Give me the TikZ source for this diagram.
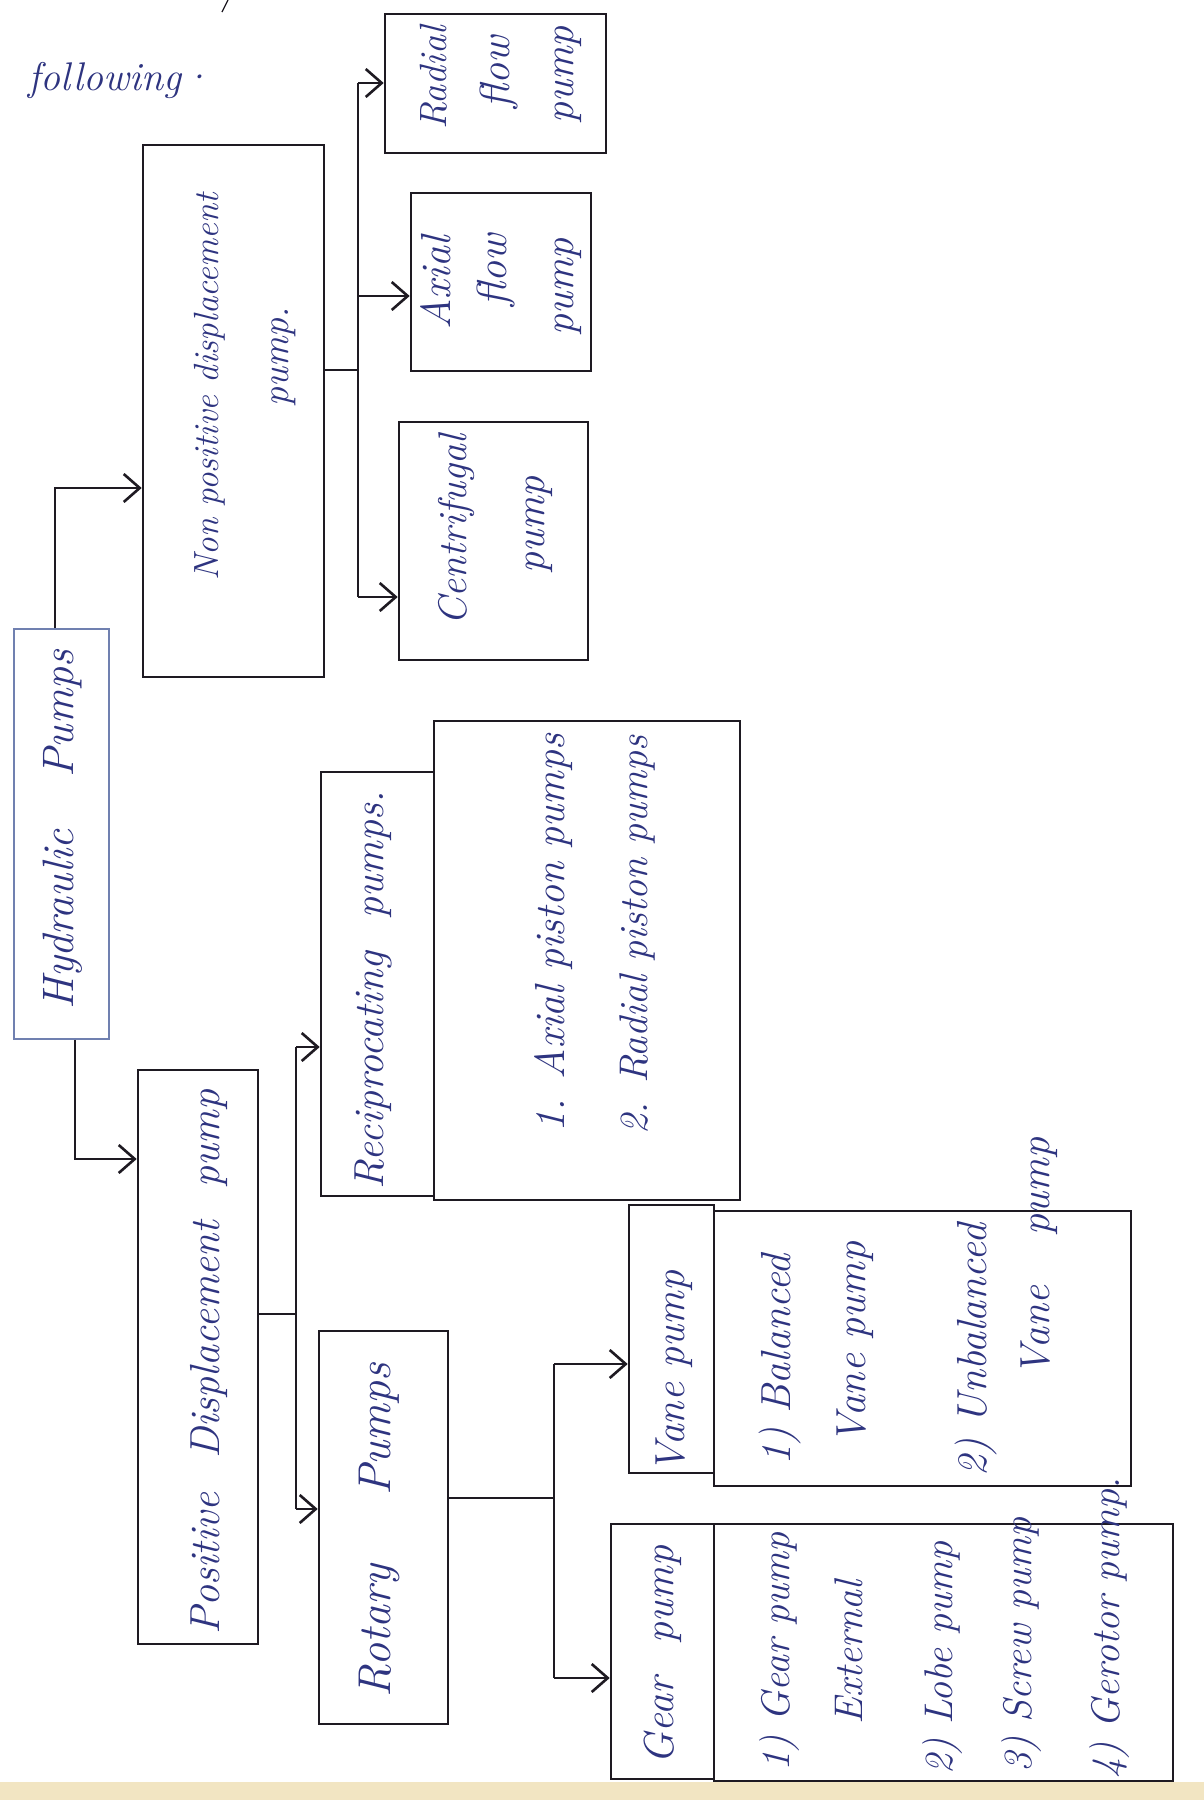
\documentclass[tikz,border=0pt]{standalone}
\usepackage{fontspec}
\usetikzlibrary{arrows.meta,fit}
\definecolor{ink}{HTML}{2E3480}
\definecolor{pen}{HTML}{1E1A22}
\definecolor{hbox}{HTML}{7080B0}
\definecolor{paper}{HTML}{F2E5C2}
\begin{document}
\begin{tikzpicture}[x=0.5pt,y=-0.5pt,
  box/.style={draw=pen,line width=1.3pt,inner sep=0pt},
  hbox/.style={draw=hbox,line width=0.8pt,inner sep=0pt},
  txt/.style={text=ink,rotate=90,inner sep=0pt,font=\itshape\fontsize{21}{24}\selectfont},
  fs/.style={font=\itshape\fontsize{#1}{#1}\selectfont},
  line/.style={draw=pen,line width=1.3pt},
  arr/.style={draw=pen,line width=1.3pt,-{Straight Barb[length=8pt,width=14pt]}}]
\useasboundingbox (0,0) rectangle (1204,1800);
\fill[white] (0,0) rectangle (1204,1800);
\fill[paper] (0,1782) rectangle (1204,1800);
\draw[pen,line width=0.6pt] (228,0) -- (222,12);
% title text
\node[text=ink,fs=20,inner sep=0pt] (fol) at (120,80) {following·};
% boxes
\node[hbox,fit={(14,629)(109,1039)}] (hp) {};
\node[box,fit={(143,145)(324,677)}] (np) {};
\node[box,fit={(138,1070)(258,1644)}] (pd) {};
\node[box,fit={(399,422)(588,660)}] (cf) {};
\node[box,fit={(411,193)(591,371)}] (af) {};
\node[box,fit={(385,14)(606,153)}] (rf) {};
\node[box,fit={(321,772)(434,1196)}] (rp) {};
\node[box,fit={(434,721)(740,1200)}] (rpl) {};
\node[box,fit={(319,1331)(448,1724)}] (ro) {};
\node[box,fit={(629,1205)(714,1473)}] (vp) {};
\node[box,fit={(714,1211)(1131,1486)}] (vpl) {};
\node[box,fit={(611,1524)(714,1779)}] (gp) {};
\node[box,fit={(714,1524)(1173,1781)}] (gpl) {};
% texts
\node[txt,fs=22] (t-hp) at (63,830) {Hydraulic\hspace{1.2em}Pumps};
\node[txt,fs=17.5] (t-np1) at (210,387) {Non positive displacement};
\node[txt,fs=19] (t-np2) at (284,357) {pump.};
\node[txt] (t-pd) at (209,1362) {Positive\hspace{0.8em}Displacement\hspace{0.8em}pump};
\node[txt,fs=20] (t-cf1) at (456,530) {Centrifugal};
\node[txt] (t-cf2) at (539,525) {pump};
\node[txt] (t-af1) at (436,283) {Axial};
\node[txt] (t-af2) at (496,270) {flow};
\node[txt] (t-af3) at (568,287) {pump};
\node[txt,fs=19] (t-rf1) at (434,78) {Radial};
\node[txt] (t-rf2) at (499,72) {flow};
\node[txt] (t-rf3) at (568,75) {pump};
\node[txt] (t-rp) at (373,990) {Reciprocating\hspace{0.8em}pumps.};
\node[txt] (t-rp1) at (554,933) {1. Axial piston pumps};
\node[txt,fs=20] (t-rp2) at (637,935) {2. Radial piston pumps};
\node[txt,fs=23] (t-ro) at (379,1530) {Rotary\hspace{1.5em}Pumps};
\node[txt] (t-vp) at (674,1372) {Vane pump};
\node[txt] (t-vp1) at (780,1360) {1) Balanced};
\node[txt] (t-vp1b) at (855,1343) {Vane pump};
\node[txt] (t-vp2) at (976,1350) {2) Unbalanced};
\node[txt] (t-vp2b) at (1039,1257) {Vane\hspace{1.2em}pump};
\node[txt] (t-gp) at (663,1655) {Gear\hspace{0.8em}pump};
\node[txt,fs=20] (t-gp1) at (780,1652) {1) Gear pump};
\node[txt,fs=20] (t-gp1b) at (849,1652) {External};
\node[txt,fs=20] (t-gp2) at (943,1658) {2) Lobe pump};
\node[txt,fs=20] (t-gp3) at (1022,1645) {3) Screw pump};
\node[txt,fs=20] (t-gp4) at (1110,1628) {4) Gerotor pump.};
% connectors
\draw[arr] (hp.north -| 55,0) |- (np.west |- 0,488);
\draw[arr] (hp.south -| 75,0) |- (pd.west |- 0,1159);
\coordinate (j1) at (358,370);
\draw[line] (np.east |- j1) -- (j1);
\draw[line] (j1 |- 0,83) -- (j1 |- 0,597);
\draw[arr] (j1 |- 0,83) -- (rf.west |- 0,83);
\draw[arr] (j1 |- 0,296) -- (af.west |- 0,296);
\draw[arr] (j1 |- 0,597) -- (cf.west |- 0,597);
\coordinate (j2) at (296,1314);
\draw[line] (pd.east |- j2) -- (j2);
\draw[line] (j2 |- 0,1047) -- (j2 |- 0,1509);
\draw[arr] (j2 |- 0,1047) -- (rp.west |- 0,1047);
\draw[arr] (j2 |- 0,1509) -- (ro.west |- 0,1509);
\coordinate (j3) at (554,1498);
\draw[line] (ro.east |- j3) -- (j3);
\draw[line] (j3 |- 0,1364) -- (j3 |- 0,1678);
\draw[arr] (j3 |- 0,1364) -- (vp.west |- 0,1364);
\draw[arr] (j3 |- 0,1678) -- (gp.west |- 0,1678);
\end{tikzpicture}
\end{document}
